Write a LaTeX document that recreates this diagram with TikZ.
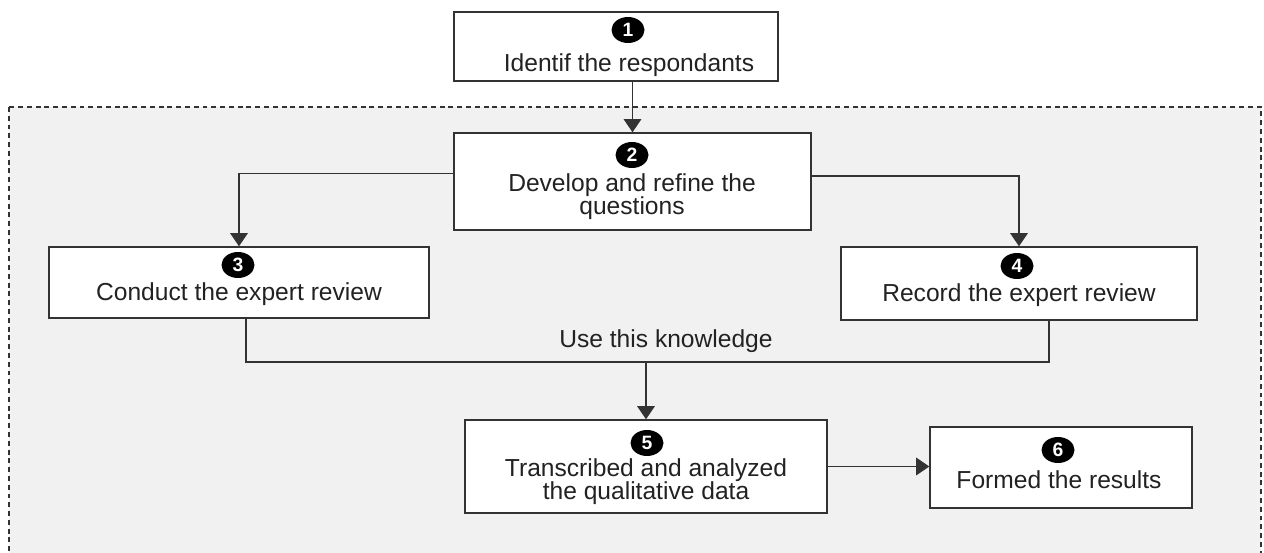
\documentclass[tikz,border=0pt]{standalone}
\usepackage{fontspec}
\setmainfont{Liberation Sans}
\usetikzlibrary{calc,arrows.meta,shapes.geometric}
\definecolor{ink}{HTML}{222222}
\definecolor{wire}{HTML}{333333}
\definecolor{panel}{HTML}{F1F1F1}
\tikzset{
  stepbox/.style={draw=wire, fill=white, line width=0.8pt, inner sep=0pt},
  flow/.style={-{Triangle[length=7.5pt,width=10pt]}, draw=wire, line width=0.8pt},
  link/.style={draw=wire, line width=0.8pt},
  numdot/.style={ellipse, fill=black, text=white, inner sep=0pt,
    minimum width=0.66cm, minimum height=0.52cm, font=\fontsize{11}{11}\selectfont\bfseries},
  lab/.style={text=ink, font=\fontsize{14}{13.6}\selectfont, align=center, inner sep=0pt, anchor=base},
  zone/.style={draw=wire, fill=panel, dash pattern=on 2.8pt off 2.2pt, line width=0.6pt}
}

\begin{document}
\begin{tikzpicture}[x=0.02cm, y=-0.02cm]
  % 1 unit = 1 pixel of the 1264 x 553 frame, y goes down
  \useasboundingbox (0,0) rectangle (1264,553);

  % shaded review zone (runs off the bottom)
  \draw[zone] (9,107) rectangle (1261,575);

  % boxes
  \node[stepbox, minimum width=6.48cm, minimum height=1.38cm] (b1) at (616,46.5) {};
  \node[stepbox, minimum width=7.14cm, minimum height=1.94cm] (b2) at (632.5,181.5) {};
  \node[stepbox, minimum width=7.60cm, minimum height=1.42cm] (b3) at (239,282.5) {};
  \node[stepbox, minimum width=7.12cm, minimum height=1.46cm] (b4) at (1019,283.5) {};
  \node[stepbox, minimum width=7.24cm, minimum height=1.86cm] (b5) at (646,466.5) {};
  \node[stepbox, minimum width=5.24cm, minimum height=1.62cm] (b6) at (1061,467.5) {};

  % step numbers
  \node[numdot] (n1) at (628,30) {1};
  \node[numdot] (n2) at (632,155) {2};
  \node[numdot] (n3) at (238,265) {3};
  \node[numdot] (n4) at (1017,266) {4};
  \node[numdot] (n5) at (647,443) {5};
  \node[numdot] (n6) at (1058,450) {6};

  % step texts (base = last line)
  \node[lab] (t1) at (629,72) {Identif the respondants};
  \node[lab] (t2) at (632,215) {Develop and refine the\\questions};
  \node[lab] (t3) at (239,301) {Conduct the expert review};
  \node[lab] (t4) at (1019,302) {Record the expert review};
  \node[lab] (t5) at (646,500) {Transcribed and analyzed\\the qualitative data};
  \node[lab] (t6) at (1059,489) {Formed the results};

  % connectors
  \draw[flow] (b2.north |- b1.south) -- (b2.north);
  \draw[flow] ($(b2.west)+(0,-8)$) -| (b3.north);
  \draw[flow] ($(b2.east)+(0,-5.5)$) -| (b4.north);

  \coordinate (mL) at (246,362);
  \coordinate (mR) at (1049,362);
  \draw[link] (b3.south -| mL) -- (mL) -- (mR) -- (b4.south -| mR);
  \node[lab] (use) at (666,348) {Use this knowledge};
  \draw[flow] (b5.north |- mL) -- (b5.north);

  \draw[flow] (b5.east) -- (b6.west |- b5.east);
\end{tikzpicture}
\end{document}
